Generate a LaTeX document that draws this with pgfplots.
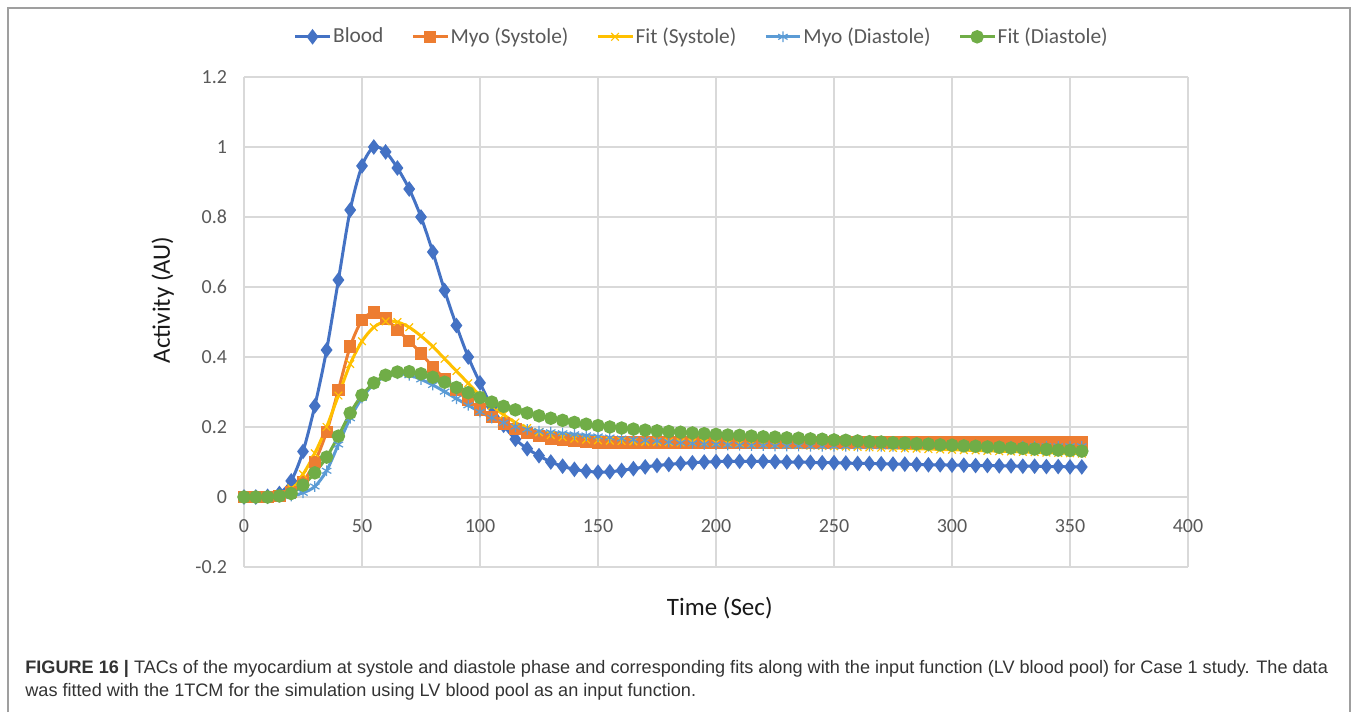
\documentclass[border=0pt]{standalone}
\usepackage{pgfplots}
\usepackage{pgfplotstable}
\pgfplotsset{compat=1.18}
\usepackage{fontspec}
\setmainfont{Carlito}
\newfontfamily\capfont{Liberation Sans}
\definecolor{cBlood}{HTML}{4472C4}
\definecolor{cMyoS}{HTML}{ED7D31}
\definecolor{cFitS}{HTML}{FFC000}
\definecolor{cMyoD}{HTML}{5B9BD5}
\definecolor{cFitD}{HTML}{70AD47}
\definecolor{tickgray}{HTML}{595959}
\definecolor{gridgray}{HTML}{D9D9D9}
\definecolor{capgray}{HTML}{333333}

% t, blood, myo systole, fit systole, myo diastole, fit diastole
\pgfplotstableread{
t blood mys fys myd fyd
0 0 0 0 0 0
5 0 0 0 0 0
10 0.002 0 0 0 0
15 0.01 0.003 0.005 0 0.003
20 0.046 0.015 0.025 0.003 0.01
25 0.13 0.043 0.065 0.012 0.034
30 0.26 0.1 0.125 0.03 0.069
35 0.42 0.186 0.2 0.075 0.114
40 0.62 0.306 0.29 0.15 0.174
45 0.82 0.43 0.38 0.225 0.24
50 0.946 0.505 0.445 0.283 0.291
55 1.0 0.527 0.485 0.323 0.326
60 0.986 0.51 0.502 0.345 0.348
65 0.94 0.477 0.5 0.352 0.357
70 0.88 0.446 0.485 0.348 0.358
75 0.80 0.41 0.46 0.336 0.352
80 0.70 0.372 0.43 0.32 0.342
85 0.59 0.337 0.395 0.301 0.328
90 0.49 0.305 0.36 0.281 0.313
95 0.40 0.277 0.325 0.262 0.298
100 0.326 0.25 0.29 0.243 0.284
105 0.258 0.228 0.26 0.226 0.271
110 0.205 0.21 0.235 0.212 0.259
115 0.165 0.195 0.213 0.201 0.249
120 0.138 0.183 0.197 0.193 0.24
125 0.118 0.174 0.185 0.188 0.232
130 0.1 0.167 0.177 0.185 0.225
135 0.088 0.162 0.171 0.182 0.219
140 0.079 0.159 0.167 0.179 0.213
145 0.074 0.157 0.164 0.176 0.208
150 0.071 0.156 0.162 0.173 0.204
155 0.072 0.156 0.161 0.170 0.200
160 0.076 0.156 0.160 0.167 0.197
165 0.081 0.156 0.159 0.164 0.194
170 0.086 0.156 0.158 0.162 0.191
175 0.09 0.156 0.158 0.160 0.189
180 0.093 0.156 0.157 0.157 0.187
185 0.096 0.156 0.156 0.155 0.185
190 0.098 0.156 0.156 0.153 0.183
195 0.1 0.156 0.155 0.151 0.181
200 0.101 0.156 0.155 0.150 0.179
205 0.102 0.156 0.154 0.149 0.177
210 0.102 0.156 0.153 0.148 0.176
215 0.102 0.156 0.152 0.147 0.174
220 0.102 0.156 0.151 0.147 0.172
225 0.101 0.156 0.150 0.146 0.171
230 0.1 0.156 0.149 0.146 0.169
235 0.1 0.156 0.148 0.146 0.168
240 0.099 0.156 0.147 0.145 0.166
245 0.098 0.156 0.146 0.145 0.165
250 0.098 0.156 0.145 0.145 0.163
255 0.097 0.156 0.144 0.145 0.162
260 0.096 0.156 0.143 0.145 0.160
265 0.096 0.156 0.142 0.145 0.158
270 0.095 0.156 0.141 0.145 0.157
275 0.094 0.156 0.140 0.145 0.155
280 0.094 0.156 0.139 0.145 0.154
285 0.093 0.156 0.138 0.145 0.152
290 0.092 0.156 0.137 0.145 0.151
295 0.092 0.156 0.136 0.145 0.149
300 0.091 0.156 0.135 0.145 0.148
305 0.091 0.156 0.134 0.145 0.146
310 0.09 0.156 0.133 0.145 0.145
315 0.09 0.156 0.132 0.145 0.143
320 0.089 0.156 0.131 0.145 0.142
325 0.089 0.156 0.130 0.145 0.140
330 0.088 0.156 0.129 0.145 0.139
335 0.088 0.156 0.128 0.145 0.137
340 0.087 0.156 0.127 0.145 0.136
345 0.087 0.156 0.126 0.145 0.134
350 0.086 0.156 0.125 0.145 0.133
355 0.086 0.156 0.124 0.145 0.131
}\tac

\begin{document}
\begin{tikzpicture}
% page = 1358 x 712 px at 0.5pt per px
\path (0,0) rectangle (679pt,356pt);
\draw[line width=1pt, draw=gray!75] (4pt,0) -- (4pt,352pt) -- (675pt,352pt) -- (675pt,0);

\begin{axis}[
    at={(122pt,72.5pt)}, anchor=south west,
    scale only axis, width=472pt, height=245pt,
    xmin=0, xmax=400, ymin=-0.2, ymax=1.2,
    xtick={0,50,...,400},
    ytick={-0.2,0,0.2,0.4,0.6,0.8,1,1.2},
    yticklabels={-0.2,0,0.2,0.4,0.6,0.8,1,1.2},
    axis x line*=middle, axis y line*=left,
    hide obscured x ticks=false, hide obscured y ticks=false,
    axis line style={draw=none},
    major tick length=0pt,
    grid=major, grid style={draw=gridgray, line width=0.75pt},
    /pgf/number format/assume math mode=true,
    tick label style={font=\fontsize{10}{12}\selectfont, text=tickgray},
    x tick label style={yshift=-7.5pt},
    y tick label style={xshift=-5pt},
    xlabel={Time (Sec)}, ylabel={Activity (AU)},
    label style={font=\fontsize{12.5}{14}\selectfont, text=black!90},
    xlabel style={at={(axis description cs:0.504,-0.084)}, anchor=center},
    ylabel style={at={(axis description cs:-0.086,0.545)}, anchor=center, rotate=0},
    legend style={at={(0.485,1.082)}, anchor=center, draw=none, fill=none,
        legend columns=5, font=\fontsize{10.7}{12}\selectfont, text=tickgray,
        /tikz/every even column/.append style={column sep=13pt},
        nodes={inner xsep=1pt}},
    every axis plot/.append style={line width=1.5pt},
]
\addplot[smooth, color=cBlood, mark=diamond*, mark size=2.7pt, mark options={solid, fill=cBlood}]
    table[x=t, y=blood] {\tac};
\addlegendentry{Blood}
\addplot[smooth, color=cMyoS, mark=square*, mark size=2.3pt, mark options={solid, fill=cMyoS}]
    table[x=t, y=mys] {\tac};
\addlegendentry{Myo (Systole)}
\addplot[smooth, color=cFitS, mark=x, mark size=2.7pt, mark options={solid, line width=0.6pt}]
    table[x=t, y=fys] {\tac};
\addlegendentry{Fit (Systole)}
\addplot[smooth, color=cMyoD, mark=asterisk, mark size=2.7pt, mark options={solid, line width=0.6pt}]
    table[x=t, y=myd] {\tac};
\addlegendentry{Myo (Diastole)}
\addplot[smooth, color=cFitD, mark=*, mark size=2.6pt, mark options={solid, fill=cFitD}]
    table[x=t, y=fyd] {\tac};
\addlegendentry{Fit (Diastole)}
\end{axis}

\node[anchor=base west, inner sep=0, text=capgray, font=\capfont\fontsize{9.05}{10}\selectfont]
    at (12.5pt,19.5pt) {\textbf{FIGURE 16 |} TACs of the myocardium at systole and diastole phase and corresponding fits along with the input function (LV blood pool) for Case 1 study. The data};
\node[anchor=base west, inner sep=0, text=capgray, font=\capfont\fontsize{9.05}{10}\selectfont]
    at (12.5pt,8pt) {was fitted with the 1TCM for the simulation using LV blood pool as an input function.};
\end{tikzpicture}
\end{document}
